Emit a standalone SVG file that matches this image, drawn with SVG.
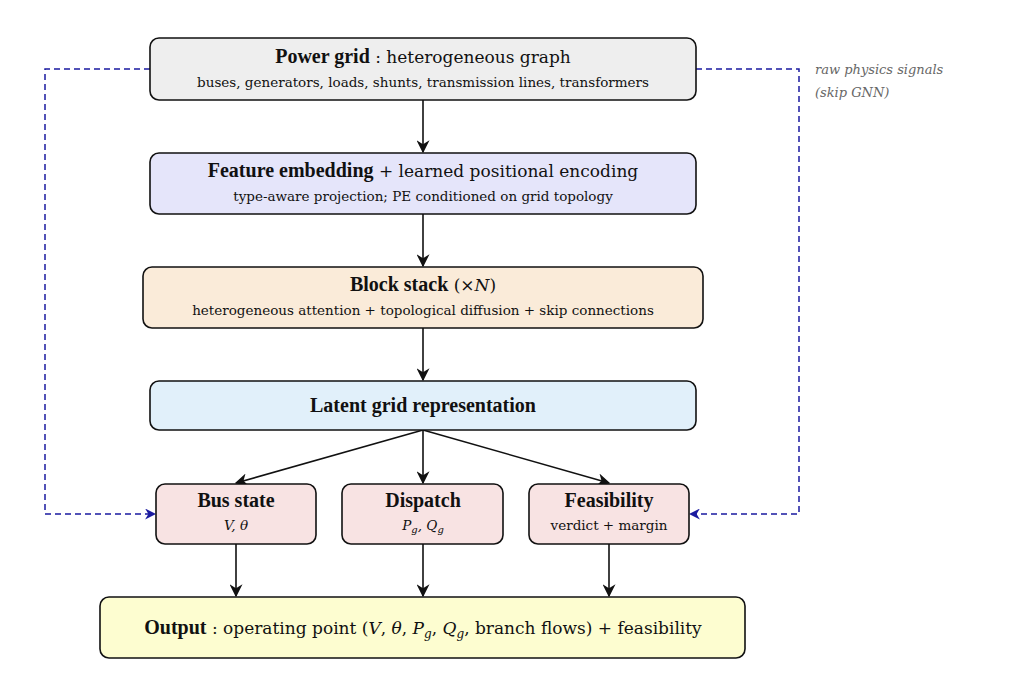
<svg xmlns="http://www.w3.org/2000/svg" width="1024" height="682" viewBox="0 0 1024 682" font-family="'Liberation Serif', 'DejaVu Serif', serif" xml:space="preserve">
<style>
text{font-family:'DejaVu Serif','Liberation Serif',serif;fill:#111;text-anchor:middle}
.b{font-family:'Liberation Serif','DejaVu Serif',serif;font-weight:bold;font-size:20px}
.m{font-family:'DejaVu Serif',serif;font-size:17px}
.s{font-family:'DejaVu Serif',serif;font-size:13.5px}
.box{stroke:#111;stroke-width:1.6}
.c{stroke:#111;stroke-width:1.6;fill:none}
.d{stroke:#1a1aa0;stroke-width:1.5;fill:none;stroke-dasharray:6 4}
</style>
<defs>
<marker id="a" viewBox="0 0 10 10" refX="9" refY="5" markerWidth="13" markerHeight="13" markerUnits="userSpaceOnUse" orient="auto"><path d="M0,0 L10,5 L0,10 L3,5 Z" fill="#111"/></marker>
<marker id="ab" viewBox="0 0 10 10" refX="9" refY="5" markerWidth="11" markerHeight="11" markerUnits="userSpaceOnUse" orient="auto"><path d="M0,0 L10,5 L0,10 L3,5 Z" fill="#1a1aa0"/></marker>
</defs>
<rect width="1024" height="682" fill="#fff"/>
<g id="connectors">
<path class="c" d="M423,100 V152" marker-end="url(#a)"/>
<path class="c" d="M423,214 V266" marker-end="url(#a)"/>
<path class="c" d="M423,328 V380" marker-end="url(#a)"/>
<path class="c" d="M423,430 L236,483" marker-end="url(#a)"/>
<path class="c" d="M423,430 V483" marker-end="url(#a)"/>
<path class="c" d="M423,430 L609,483" marker-end="url(#a)"/>
<path class="c" d="M236,544 V596" marker-end="url(#a)"/>
<path class="c" d="M423,544 V596" marker-end="url(#a)"/>
<path class="c" d="M609,544 V596" marker-end="url(#a)"/>
<path class="d" d="M150,69 H45 V514 H155" marker-end="url(#ab)"/>
<path class="d" d="M696,69 H799 V514 H690" marker-end="url(#ab)"/>
<text x="815" y="74" style="font-size:13px;font-style:italic;fill:#666;text-anchor:start">raw physics signals</text>
<text x="815" y="97" style="font-size:13px;font-style:italic;fill:#666;text-anchor:start">(skip GNN)</text>
</g>
<g id="power">
<rect class="box" x="150" y="38" width="546" height="62" rx="9" fill="#eeeeee"/>
<text x="423" y="63"><tspan class="b">Power grid</tspan><tspan class="m">  :  heterogeneous graph</tspan></text>
<text class="s" x="423" y="87">buses, generators, loads, shunts, transmission lines, transformers</text>
</g>
<g id="feature">
<rect class="box" x="150" y="153" width="546" height="61" rx="9" fill="#e5e5fa"/>
<text x="423" y="177"><tspan class="b">Feature embedding</tspan><tspan class="m"> + learned positional encoding</tspan></text>
<text class="s" x="423" y="201">type-aware projection;  PE conditioned on grid topology</text>
</g>
<g id="block">
<rect class="box" x="143" y="267" width="560" height="61" rx="9" fill="#faebd9"/>
<text x="423" y="291"><tspan class="b">Block stack</tspan><tspan class="m">  (×<tspan font-style="italic">N</tspan>)</tspan></text>
<text class="s" x="423" y="315">heterogeneous attention  +  topological diffusion  +  skip connections</text>
</g>
<g id="latent">
<rect class="box" x="150" y="381" width="546" height="49" rx="9" fill="#e1f0fa"/>
<text class="b" x="423" y="412">Latent grid representation</text>
</g>
<g id="bus">
<rect class="box" x="156" y="484" width="160" height="60" rx="9" fill="#f8e3e3"/>
<text class="b" x="236" y="507">Bus state</text>
<text class="s" x="236" y="530" font-style="italic">V,  θ</text>
</g>
<g id="dispatch">
<rect class="box" x="342" y="484" width="161" height="60" rx="9" fill="#f8e3e3"/>
<text class="b" x="423" y="507">Dispatch</text>
<text class="s" x="423" y="530" font-style="italic">P<tspan font-size="10" dy="3">g</tspan><tspan dy="-3">,  Q</tspan><tspan font-size="10" dy="3">g</tspan></text>
</g>
<g id="feasibility">
<rect class="box" x="529" y="484" width="160" height="60" rx="9" fill="#f8e3e3"/>
<text class="b" x="609" y="507">Feasibility</text>
<text class="s" x="609" y="530">verdict + margin</text>
</g>
<g id="output">
<rect class="box" x="100" y="597" width="645" height="61" rx="9" fill="#fdfdd0"/>
<text x="423" y="634"><tspan class="b">Output</tspan><tspan class="m">  :  operating point (<tspan font-style="italic">V</tspan>, <tspan font-style="italic">θ</tspan>, <tspan font-style="italic">P</tspan><tspan font-size="12" dy="4" font-style="italic">g</tspan><tspan dy="-4">, </tspan><tspan font-style="italic">Q</tspan><tspan font-size="12" dy="4" font-style="italic">g</tspan><tspan dy="-4">, branch flows) + feasibility</tspan></tspan></text>
</g>
</svg>
